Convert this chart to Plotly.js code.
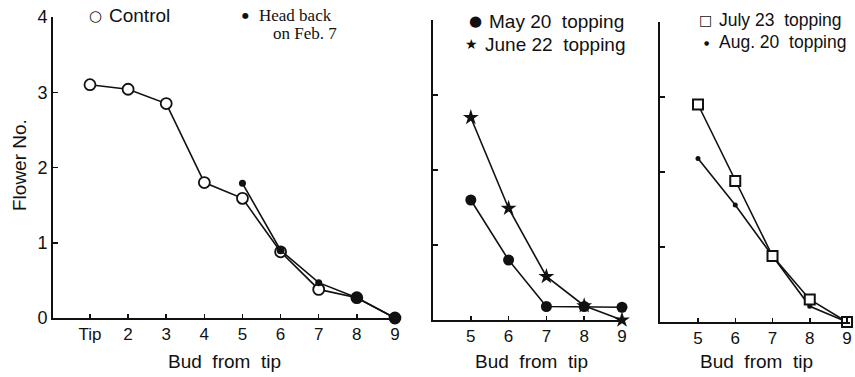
<!DOCTYPE html>
<html>
<head>
<meta charset="utf-8">
<script src="https://cdn.plot.ly/plotly-3.0.1.min.js"></script>
<style>html,body{margin:0;padding:0;background:#fff;}#chart{width:855px;height:377px;}</style>
</head>
<body>
<div id="chart"></div>
<script>
// Panel 1
const budsLeft = [1, 2, 3, 4, 5, 6, 7, 8, 9];
const budLabelsLeft = ["Tip", "2", "3", "4", "5", "6", "7", "8", "9"];
const control = [3.1, 3.04, 2.85, 1.8, 1.59, 0.88, 0.38, 0.27, 0.0];
const budsHeadBack = [5, 6, 7, 8, 9];
const headBack = [1.79, 0.9, 0.47, 0.27, 0.0];
// Panel 2
const budsRight = [5, 6, 7, 8, 9];
const budLabelsRight = ["5", "6", "7", "8", "9"];
const may20 = [1.6, 0.8, 0.18, 0.18, 0.17];
const june22 = [2.7, 1.49, 0.58, 0.19, 0.0];
// Panel 3
const july23 = [2.9, 1.88, 0.88, 0.3, 0.0];
const aug20 = [2.18, 1.56, 0.88, 0.21, 0.0];
const yTicks = [0, 1, 2, 3, 4];

const black = "#111";
const lineW = 1.6;

const traces = [
  {x: budsLeft, y: control, xaxis: "x", yaxis: "y", mode: "lines+markers", cliponaxis: false,
   line: {color: black, width: lineW},
   marker: {symbol: "circle", color: "#fff", size: 11, opacity: 1, line: {color: black, width: 1.8}}},
  {x: budsHeadBack, y: headBack, xaxis: "x", yaxis: "y", mode: "lines+markers", cliponaxis: false,
   line: {color: black, width: lineW},
   marker: {symbol: "circle", color: black, size: [7, 8, 7, 11, 11], opacity: 1, line: {width: 0}}},
  {x: budsRight, y: may20, xaxis: "x2", yaxis: "y2", mode: "lines+markers", cliponaxis: false,
   line: {color: black, width: lineW},
   marker: {symbol: "circle", color: black, size: 11, opacity: 1}},
  {x: budsRight, y: june22, xaxis: "x2", yaxis: "y2", mode: "lines+markers", cliponaxis: false,
   line: {color: black, width: lineW},
   marker: {symbol: "star", color: black, size: 12, opacity: 1}},
  {x: budsRight, y: aug20, xaxis: "x3", yaxis: "y3", mode: "lines+markers", cliponaxis: false,
   line: {color: black, width: lineW},
   marker: {symbol: "circle", color: black, size: 5, opacity: 1}},
  {x: budsRight, y: july23, xaxis: "x3", yaxis: "y3", mode: "lines+markers", cliponaxis: false,
   line: {color: black, width: lineW},
   marker: {symbol: "square", color: "#fff", size: 10, opacity: 1, line: {color: black, width: 2}}}
];

const sans = "Liberation Sans, Arial, sans-serif";
const tickFont = {family: sans, size: 17, color: black};
function xax(domain, range, vals, text) {
  return {domain: domain, range: range, tickvals: vals, ticktext: text, ticks: "inside", ticklen: 4,
    tickwidth: 1.5, tickcolor: black, showline: true, linecolor: black, linewidth: 2,
    showgrid: false, zeroline: false, tickfont: tickFont, fixedrange: true};
}
function yax(domain, anchor, showLabels) {
  return {domain: domain, anchor: anchor, range: [0, 4], tickvals: yTicks, ticks: "inside", ticklen: 5,
    tickwidth: 1.5, tickcolor: black, showline: true, linecolor: black, linewidth: 2,
    showgrid: false, zeroline: false, showticklabels: showLabels,
    tickfont: {family: sans, size: 18, color: black}, fixedrange: true};
}

const textFont = {family: sans, size: 19, color: black};
const rightFont = {family: sans, size: 17.5, color: black};
const serifFont = {family: "Liberation Serif, serif", size: 17, color: black};
const symFont = {family: "DejaVu Sans, sans-serif", size: 15, color: black};
const nb = "\u00a0";
function ann(x, y, text, font, extra) {
  return Object.assign({xref: "paper", yref: "paper", x: x / 855, y: 1 - y / 377, text: text,
    showarrow: false, xanchor: "left", yanchor: "middle", font: font}, extra || {});
}
const center = {xanchor: "center"};
const budTitle = "Bud" + nb + nb + "from" + nb + nb + "tip";

const layout = {
  width: 855, height: 377,
  margin: {l: 0, r: 0, t: 0, b: 0},
  paper_bgcolor: "#fff", plot_bgcolor: "rgba(0,0,0,0)",
  showlegend: false,
  xaxis: Object.assign(xax([53 / 855, 398 / 855], [0.03, 9.08], budsLeft, budLabelsLeft), {anchor: "y"}),
  yaxis: yax([59 / 377, 360 / 377], "x", true),
  xaxis2: Object.assign(xax([433 / 855, 625 / 855], [4.0, 9.08], budsRight, budLabelsRight), {anchor: "y2"}),
  yaxis2: yax([57 / 377, 357 / 377], "x2", false),
  xaxis3: Object.assign(xax([660 / 855, 850 / 855], [3.98, 9.08], budsRight, budLabelsRight), {anchor: "y3"}),
  yaxis3: yax([55 / 377, 355 / 377], "x3", false),
  annotations: [
    ann(19, 165, "Flower" + nb + "No.", {family: sans, size: 19, color: black}, {xanchor: "center", textangle: -90}),
    ann(224, 361, budTitle, textFont, center),
    ann(531, 361, budTitle, textFont, center),
    ann(756, 361, budTitle, textFont, center),
    ann(95, 16, "○", symFont, center),
    ann(107, 16, "Control", textFont),
    ann(245, 16, "●", {family: symFont.family, size: 8, color: black}, center),
    ann(257, 16, "Head" + nb + "back", serifFont),
    ann(271, 33, "on" + nb + "Feb." + nb + "7", serifFont),
    ann(475, 21, "●", symFont, center),
    ann(487, 21, "May" + nb + "20" + nb + nb + "topping", textFont),
    ann(471, 44, "★", {family: symFont.family, size: 14, color: black}, center),
    ann(483, 44, "June" + nb + "22" + nb + nb + "topping", textFont),
    ann(705, 20, "□", {family: symFont.family, size: 14, color: black}, center),
    ann(717, 20, "July" + nb + "23" + nb + nb + "topping", rightFont),
    ann(706, 42, "●", {family: symFont.family, size: 6, color: black}, center),
    ann(717, 42, "Aug." + nb + "20" + nb + nb + "topping", rightFont)
  ]
};

Plotly.newPlot("chart", traces, layout, {staticPlot: true, displayModeBar: false});
</script>
</body>
</html>
